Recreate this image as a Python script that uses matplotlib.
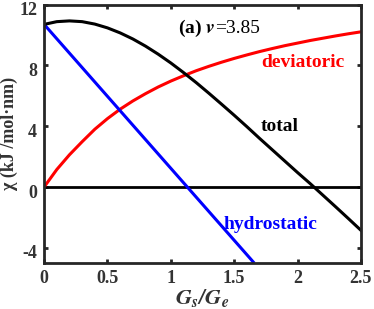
import numpy as np
import matplotlib
matplotlib.use("Agg")
import matplotlib.pyplot as plt
import matplotlib.transforms as mtransforms

# values
gs_ge = [0.0, 0.1, 0.2, 0.3, 0.4, 0.5, 0.6, 0.7, 0.8, 0.9, 1.0, 1.1, 1.2,
         1.3, 1.4, 1.5, 1.6, 1.7, 1.8, 1.9, 2.0, 2.1, 2.2, 2.3, 2.4, 2.5]
deviatoric = [0.0, 1.15, 2.12, 2.98, 3.80, 4.50, 5.12, 5.66, 6.14, 6.58,
              6.97, 7.32, 7.65, 7.94, 8.21, 8.46, 8.69, 8.91, 9.11, 9.30,
              9.47, 9.64, 9.79, 9.94, 10.08, 10.21]
total = [10.7, 10.88, 10.93, 10.88, 10.72, 10.47, 10.14, 9.74, 9.27, 8.74,
         8.16, 7.53, 6.87, 6.17, 5.45, 4.72, 3.97, 3.20, 2.45, 1.70,
         0.95, 0.22, -0.54, -1.30, -2.07, -2.85]
hydro_x = [0.0, 1.65]
hydro_y = [10.7, -4.93]
zero_x = [0.0, 2.5]
zero_y = [0.0, 0.0]

xticks = [0, 0.5, 1, 1.5, 2, 2.5]
xticklabels = ["0", "0.5", "1", "1.5", "2", "2.5"]
yticks = [-4, 0, 4, 8, 12]

plt.rcParams['font.family'] = ['Liberation Serif', 'DejaVu Serif']
plt.rcParams['font.weight'] = 'bold'
plt.rcParams['mathtext.fontset'] = 'stix'
plt.rcParams['axes.unicode_minus'] = False

fig = plt.figure(figsize=(3.74, 3.09), dpi=100)
ax = fig.add_axes([0.118, 0.149, 0.847, 0.836])

ax.plot(zero_x, zero_y, color='black', lw=2)
ax.plot(gs_ge, deviatoric, color='red', lw=2.2)
ax.plot(hydro_x, hydro_y, color='blue', lw=2.2)
ax.plot(gs_ge, total, color='black', lw=2.2)

ax.set_xlim(0, 2.5)
ax.set_ylim(-5, 12)
ax.set_xticks(xticks)
ax.set_xticklabels(xticklabels)
ax.set_yticks(yticks)
ax.tick_params(direction='in', top=True, right=True, width=2, length=3,
               labelsize=13, colors='#262626', pad=5)
for lab in ax.get_xticklabels() + ax.get_yticklabels():
    lab.set_fontweight('bold')
    lab.set_color('#333333')
# nudge y labels down a little so "12" stays inside the figure
shift = mtransforms.ScaledTranslation(0, -3 / 72, fig.dpi_scale_trans)
for lab in ax.get_yticklabels():
    lab.set_transform(lab.get_transform() + shift)
for s in ax.spines.values():
    s.set_linewidth(2)
    s.set_color('#262626')

ax.set_xlabel(r'$\mathbfit{G_s/G_e}$', fontsize=16, labelpad=0, color='#333333')
ax.set_ylabel('χ (kJ /mol·nm)', fontsize=13, fontweight='bold',
              labelpad=1, color='#333333')

ax.text(1.35, 10.45, r'(a) $\mathbfit{v}$', fontsize=14,
        ha='right', va='center')
ax.text(1.35, 10.45, '=3.85', fontsize=14, fontweight='normal',
        ha='left', va='center')
ax.text(2.04, 8.2, 'deviatoric', color='red', fontsize=14, fontweight='bold',
        ha='center', va='center')
ax.text(1.86, 3.95, 'total', color='black', fontsize=14, fontweight='bold',
        ha='center', va='center')
ax.text(1.79, -2.5, 'hydrostatic', color='blue', fontsize=14,
        fontweight='bold', ha='center', va='center')

fig.savefig('out.png', dpi=100)
